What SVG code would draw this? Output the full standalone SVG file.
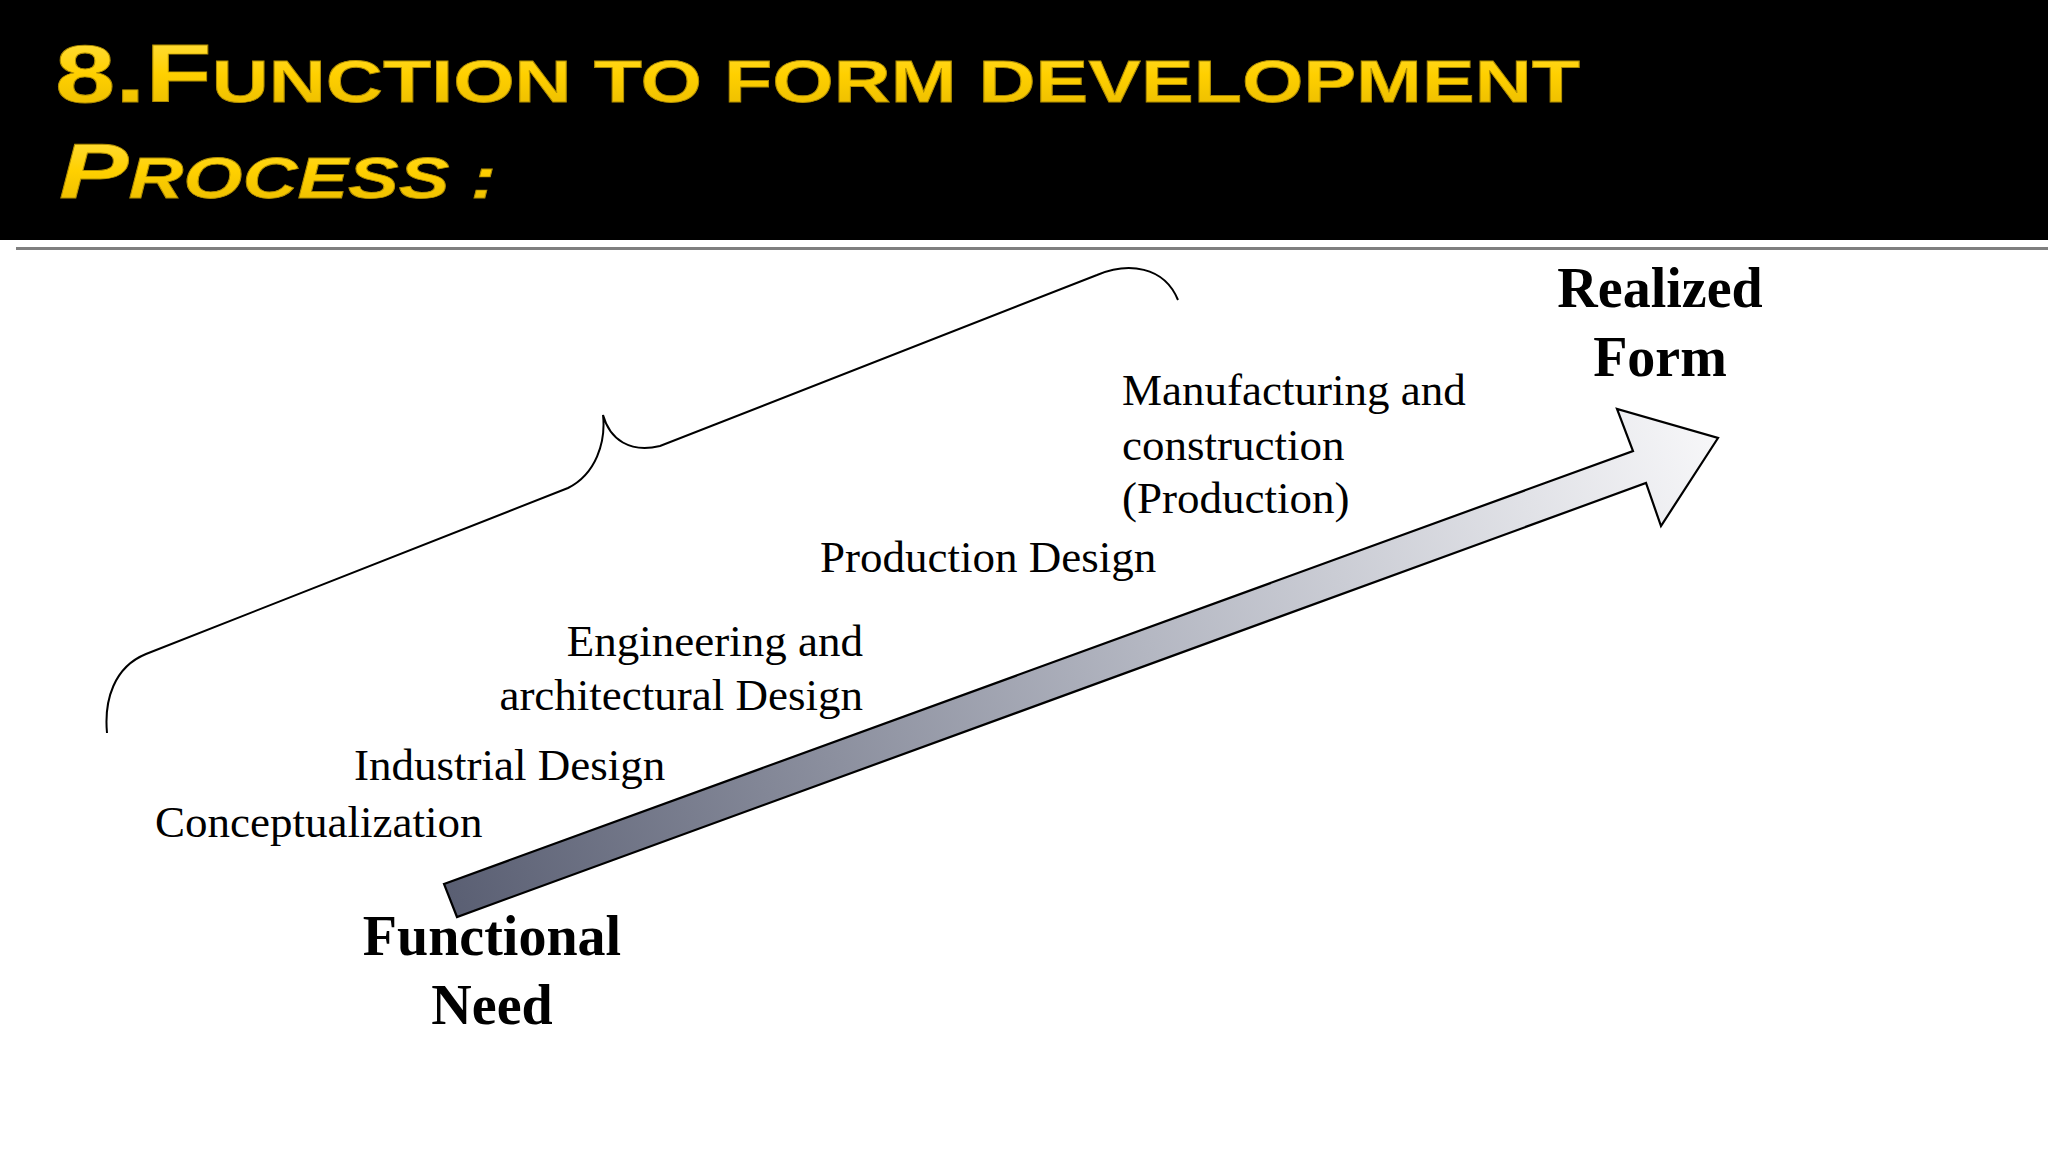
<svg xmlns="http://www.w3.org/2000/svg" width="2048" height="1152" viewBox="0 0 2048 1152">
  <defs>
    <linearGradient id="arrowGrad" gradientUnits="userSpaceOnUse" x1="450" y1="900" x2="1718" y2="438">
      <stop offset="0" stop-color="#5a5f73"/>
      <stop offset="0.55" stop-color="#b4b7c2"/>
      <stop offset="1" stop-color="#f7f7f9"/>
    </linearGradient>
    <linearGradient id="gold" x1="0" y1="0" x2="0" y2="1">
      <stop offset="0" stop-color="#ffe04a"/>
      <stop offset="0.5" stop-color="#ffd000"/>
      <stop offset="1" stop-color="#e6b800"/>
    </linearGradient>
  </defs>
  <style>
    .title { font-family: "Liberation Sans", Arial, sans-serif; font-weight: bold; fill: url(#gold); stroke: #b08d00; stroke-width: 0.8; }
    .lbl { font-family: "Liberation Serif", "Times New Roman", serif; font-size: 45px; fill: #000; }
    .big { font-family: "Liberation Serif", "Times New Roman", serif; font-size: 56px; font-weight: bold; fill: #000; }
  </style>

  <rect x="0" y="0" width="2048" height="1152" fill="#ffffff"/>

  <g id="header">
    <rect x="0" y="0" width="2048" height="240" fill="#000000"/>
    <rect x="16" y="247" width="2032" height="3" fill="#7f7f7f"/>
    <text class="title" x="55" y="102" textLength="1525" lengthAdjust="spacingAndGlyphs"><tspan font-size="81">8.F</tspan><tspan font-size="59">UNCTION TO FORM DEVELOPMENT</tspan></text>
    <text class="title" x="59" y="198" font-style="italic" textLength="437" lengthAdjust="spacingAndGlyphs"><tspan font-size="78">P</tspan><tspan font-size="57">ROCESS :</tspan></text>
  </g>

  <g id="connectors">
    <path id="brace" d="M107,733 C104,700 114,667 146,654 L568,488 C596,474 606,442 603,415 C610,440 630,453 660,446 L1097,275 C1128,262 1164,266 1178,300" fill="none" stroke="#000" stroke-width="2"/>
    <path id="arrow" d="M444,884 L1633,451 L1617,409 L1718,438 L1661,526 L1646,483 L457,917 Z" fill="url(#arrowGrad)" stroke="#000" stroke-width="2.2" stroke-linejoin="miter"/>
  </g>

  <g id="node-functional-need">
    <text class="big" x="492" y="955" text-anchor="middle">Functional</text>
    <text class="big" x="492" y="1024" text-anchor="middle">Need</text>
  </g>
  <g id="node-realized-form">
    <text class="big" x="1660" y="307" text-anchor="middle">Realized</text>
    <text class="big" x="1660" y="376" text-anchor="middle">Form</text>
  </g>
  <g id="node-conceptualization">
    <text class="lbl" x="155" y="837">Conceptualization</text>
  </g>
  <g id="node-industrial">
    <text class="lbl" x="354" y="780">Industrial Design</text>
  </g>
  <g id="node-engineering">
    <text class="lbl" x="863" y="656" text-anchor="end">Engineering and</text>
    <text class="lbl" x="863" y="710" text-anchor="end">architectural Design</text>
  </g>
  <g id="node-production-design">
    <text class="lbl" x="820" y="572">Production Design</text>
  </g>
  <g id="node-manufacturing">
    <text class="lbl" x="1122" y="405">Manufacturing and</text>
    <text class="lbl" x="1122" y="460">construction</text>
    <text class="lbl" x="1122" y="513">(Production)</text>
  </g>
</svg>
